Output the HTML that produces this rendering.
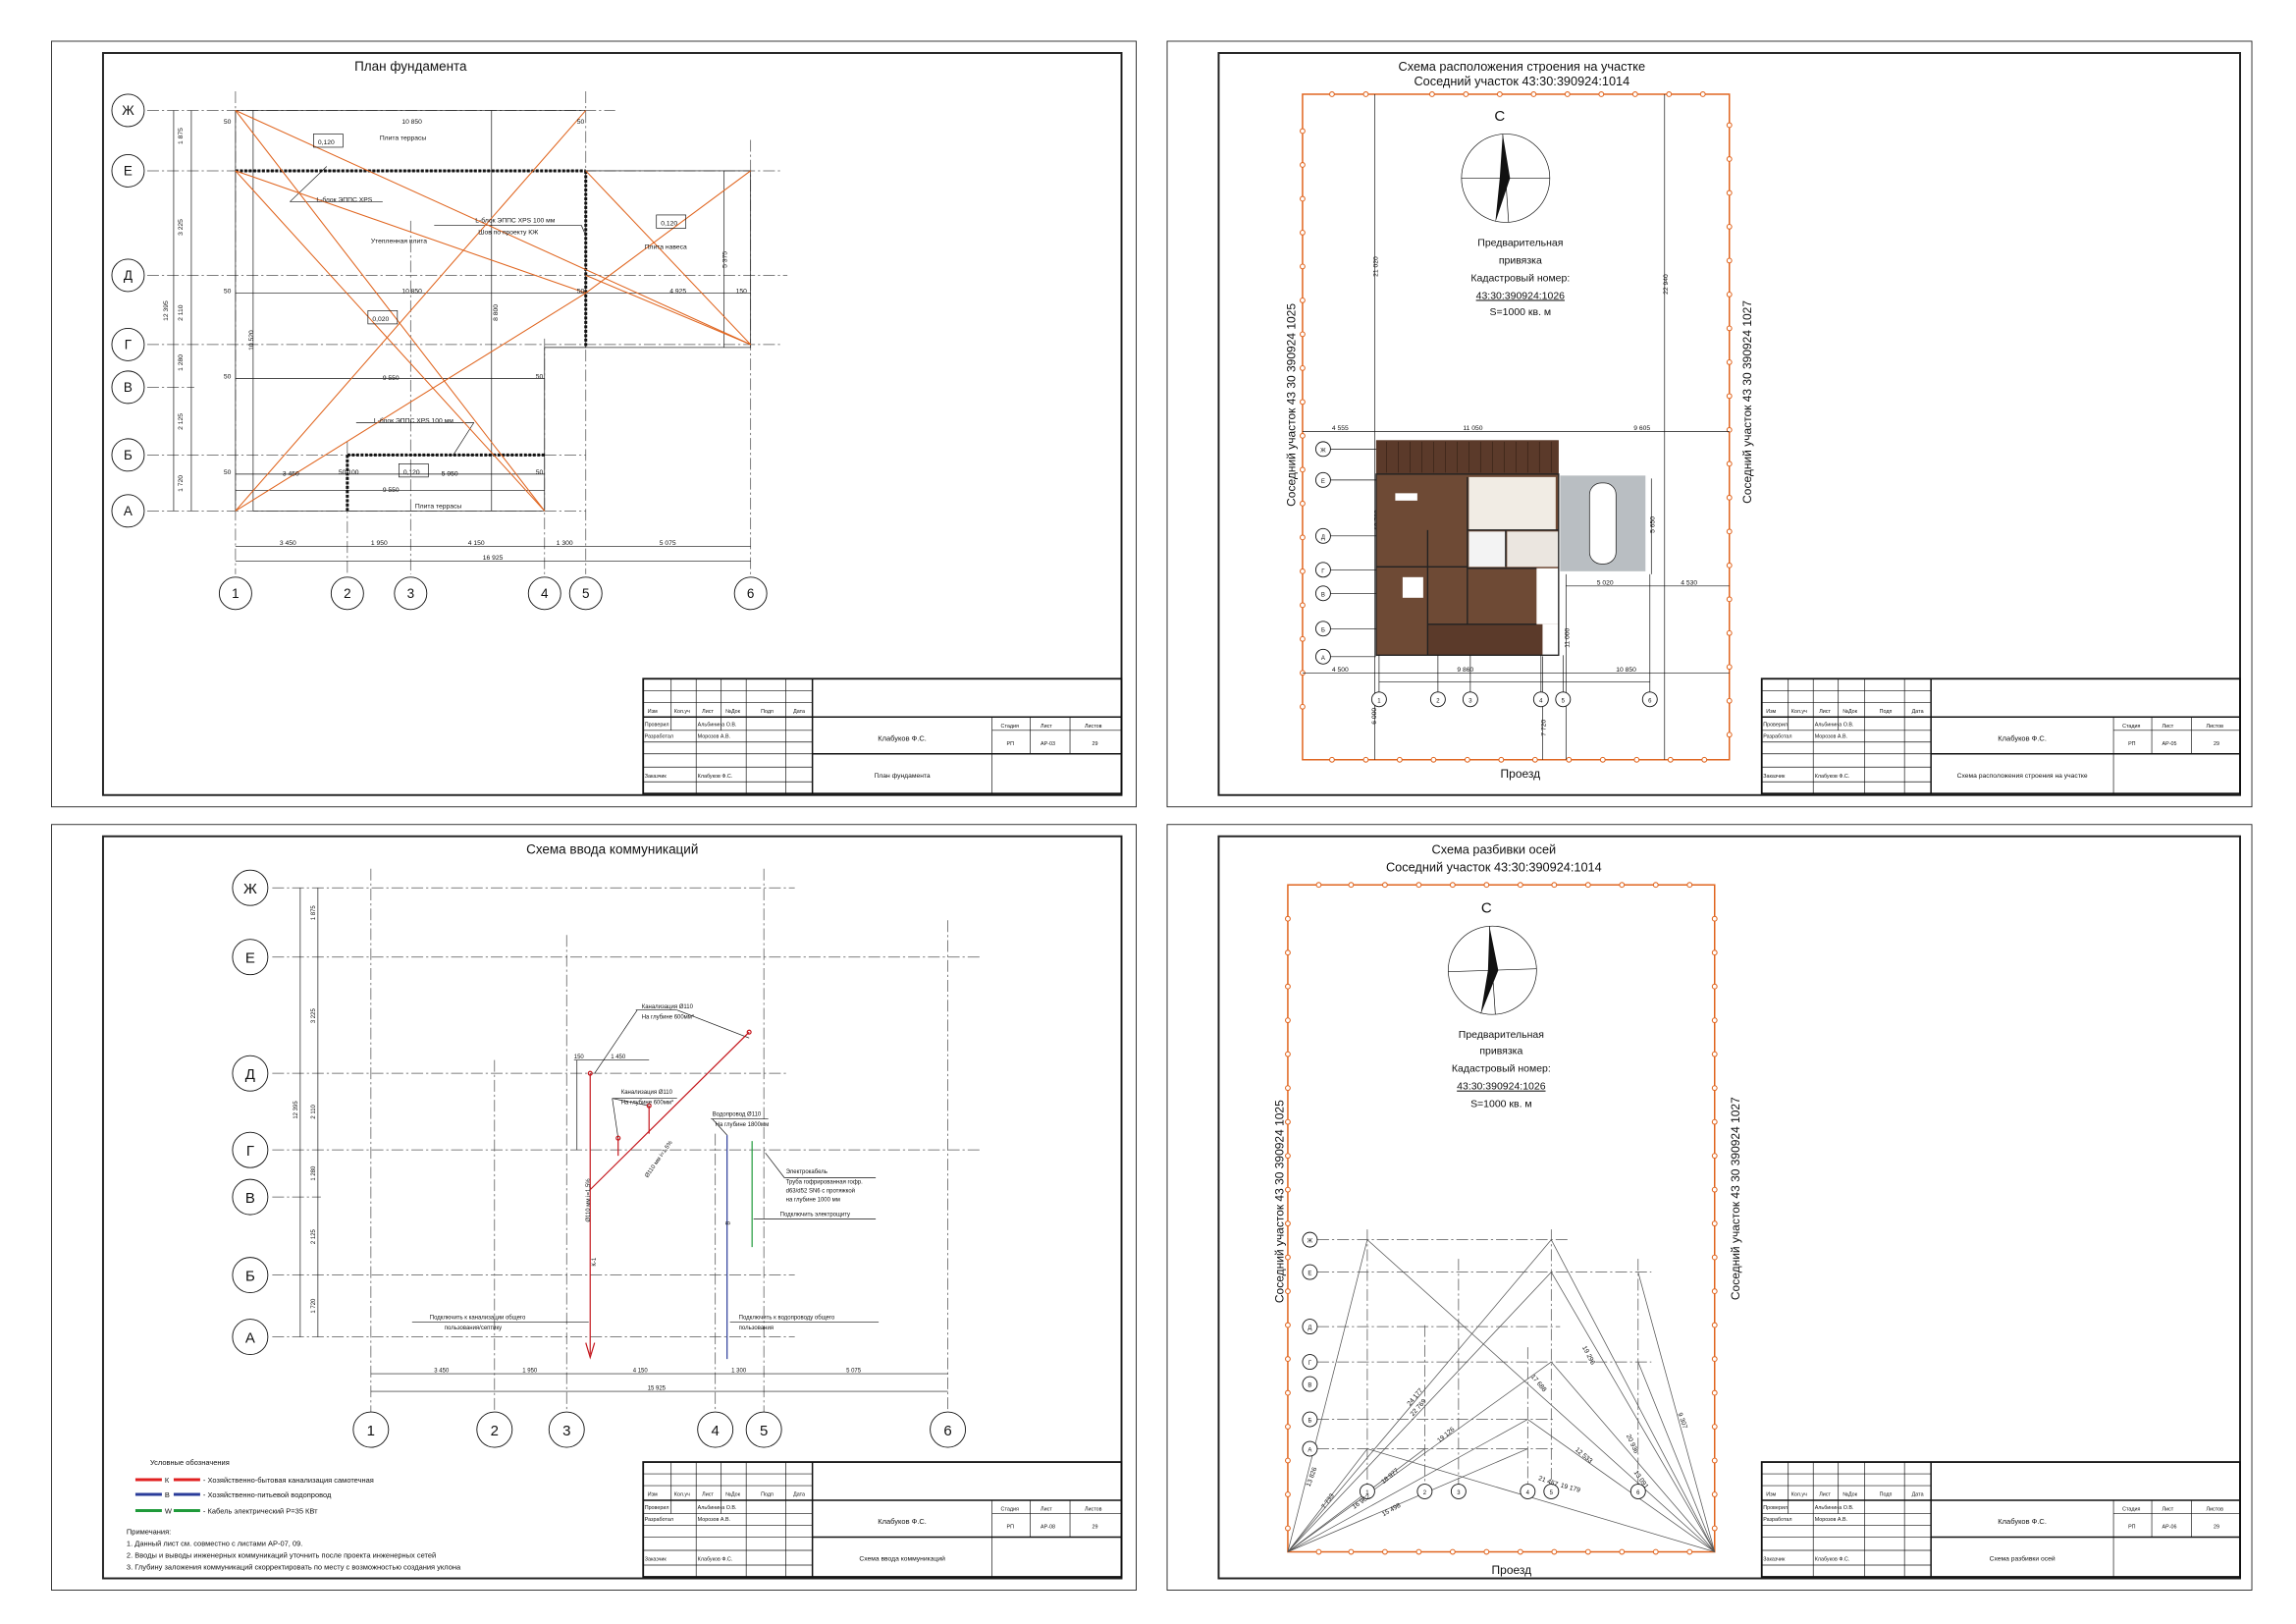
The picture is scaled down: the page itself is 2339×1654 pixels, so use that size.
<!DOCTYPE html>
<html><head><meta charset="utf-8"><style>
html,body{margin:0;padding:0;background:#fff;}
svg{display:block;}
text{font-family:"Liberation Sans Narrow","Liberation Sans","DejaVu Sans",sans-serif;fill:#111;}
.ax{stroke:#555;stroke-width:.5;stroke-dasharray:8 2 1.5 2;fill:none}
.th{stroke:#111;stroke-width:.45;fill:none}
.tk{stroke:#111;stroke-width:1.2;fill:none}
.or{stroke:#e0651f;stroke-width:.7;fill:none}
.bb{stroke:#111;stroke-width:.6;fill:#fff}
</style></head><body>
<svg width="2339" height="1654" viewBox="0 0 1560 1103" preserveAspectRatio="none" xmlns="http://www.w3.org/2000/svg">
<rect width="1560" height="1103" fill="#fff"/>
<!-- sheet frames -->
<g fill="none" stroke="#222">
<rect x="35" y="28" width="737" height="520" stroke-width=".6"/>
<rect x="70" y="36" width="692" height="504" stroke-width="1.3"/>
<rect x="793" y="28" width="737" height="520" stroke-width=".6"/>
<rect x="828" y="36" width="694" height="504" stroke-width="1.3"/>
<rect x="35" y="560" width="737" height="520" stroke-width=".6"/>
<rect x="70" y="568" width="692" height="504" stroke-width="1.3"/>
<rect x="793" y="560" width="737" height="520" stroke-width=".6"/>
<rect x="828" y="568" width="694" height="504" stroke-width="1.3"/>
</g>

<!-- ================= SHEET 1 ================= -->
<text x="279" y="48" font-size="9" text-anchor="middle">План фундамента</text>
<g class="ax">
<line x1="100" y1="75" x2="418" y2="75"/><line x1="100" y1="116" x2="530" y2="116"/>
<line x1="100" y1="187" x2="535" y2="187"/><line x1="100" y1="234" x2="530" y2="234"/>
<line x1="100" y1="263" x2="132" y2="263"/><line x1="100" y1="309" x2="398" y2="309"/>
<line x1="100" y1="347" x2="398" y2="347"/>
<line x1="160" y1="62" x2="160" y2="390"/><line x1="236" y1="300" x2="236" y2="390"/>
<line x1="279" y1="150" x2="279" y2="390"/><line x1="370" y1="230" x2="370" y2="390"/>
<line x1="398" y1="62" x2="398" y2="390"/><line x1="510" y1="95" x2="510" y2="390"/>
</g>
<g class="th">
<line x1="160" y1="75" x2="398" y2="75"/><line x1="172" y1="347" x2="370" y2="347"/>
<line x1="160" y1="75" x2="160" y2="347"/><line x1="370" y1="236" x2="370" y2="347"/>
<line x1="370" y1="236" x2="398" y2="236"/>
<rect x="398" y="116" width="112" height="120"/>
<line x1="160" y1="199" x2="398" y2="199"/><line x1="160" y1="257" x2="370" y2="257"/>
<line x1="160" y1="322" x2="370" y2="322"/><line x1="160" y1="333" x2="370" y2="333"/>
<line x1="398" y1="199" x2="510" y2="199"/>
<line x1="118" y1="75" x2="118" y2="347"/><line x1="130" y1="75" x2="130" y2="347"/>
<line x1="160" y1="371" x2="510" y2="371"/><line x1="160" y1="381" x2="510" y2="381"/>
<line x1="172" y1="75" x2="172" y2="347"/><line x1="334" y1="75" x2="334" y2="347"/>
<line x1="492" y1="116" x2="492" y2="236"/>
<line x1="197" y1="137" x2="260" y2="137"/><line x1="197" y1="137" x2="222" y2="113"/>
<line x1="295" y1="153" x2="395" y2="153"/><line x1="395" y1="153" x2="398" y2="160"/>
<line x1="242" y1="287" x2="322" y2="287"/><line x1="322" y1="287" x2="308" y2="309"/>
</g>
<g class="tk" stroke-dasharray="2 1">
<line x1="160" y1="116" x2="398" y2="116" stroke-width="2"/>
<line x1="398" y1="116" x2="398" y2="236" stroke-width="2"/>
<line x1="236" y1="309" x2="370" y2="309" stroke-width="2"/>
<line x1="236" y1="309" x2="236" y2="347" stroke-width="2"/>
</g>
<g class="or">
<line x1="160" y1="75" x2="510" y2="234"/><line x1="160" y1="116" x2="398" y2="199"/>
<line x1="160" y1="116" x2="370" y2="347"/><line x1="160" y1="75" x2="370" y2="347"/>
<line x1="160" y1="347" x2="398" y2="75"/><line x1="160" y1="347" x2="398" y2="199"/>
<line x1="398" y1="199" x2="510" y2="116"/><line x1="398" y1="187" x2="510" y2="234"/>
<line x1="398" y1="116" x2="510" y2="234"/>
</g>
<g font-size="4.5">
<rect x="213" y="91" width="20" height="9" class="th"/><text x="216" y="98">0,120</text>
<rect x="446" y="146" width="20" height="9" class="th"/><text x="449" y="153">0,120</text>
<rect x="250" y="211" width="20" height="9" class="th"/><text x="253" y="218">0,020</text>
<rect x="271" y="315" width="20" height="9" class="th"/><text x="274" y="322">0,120</text>
<text x="258" y="95">Плита террасы</text><text x="252" y="165">Утепленная плита</text>
<text x="438" y="169">Плита навеса</text><text x="282" y="345">Плита террасы</text>
<text x="215" y="137">L-блок ЭППС XPS</text>
<text x="323" y="151">L-блок ЭППС XPS 100 мм</text><text x="325" y="159">Шов по проекту КЖ</text>
<text x="254" y="287">L-блок ЭППС XPS 100 мм</text>
<text x="273" y="84">10 850</text><text x="273" y="199">10 850</text><text x="455" y="199">4 925</text>
<text x="260" y="258">9 550</text><text x="192" y="323">3 450</text><text x="300" y="323">5 950</text><text x="260" y="334">9 550</text>
<text x="190" y="370">3 450</text><text x="252" y="370">1 950</text><text x="318" y="370">4 150</text>
<text x="378" y="370">1 300</text><text x="448" y="370">5 075</text><text x="328" y="380">16 925</text>
<text x="152" y="84">50</text><text x="152" y="199">50</text><text x="152" y="257">50</text><text x="152" y="322">50</text>
<text x="392" y="84">50</text><text x="392" y="199">50</text><text x="500" y="199">150</text>
<text x="364" y="257">50</text><text x="364" y="322">50</text><text x="230" y="322">50 100</text>
</g>
<g font-size="4.5">
<text transform="translate(124 98) rotate(-90)">1 875</text>
<text transform="translate(124 160) rotate(-90)">3 225</text>
<text transform="translate(124 218) rotate(-90)">2 110</text>
<text transform="translate(124 252) rotate(-90)">1 280</text>
<text transform="translate(124 292) rotate(-90)">2 125</text>
<text transform="translate(124 334) rotate(-90)">1 720</text>
<text transform="translate(114 218) rotate(-90)">12 395</text>
<text transform="translate(172 238) rotate(-90)">10 520</text>
<text transform="translate(338 218) rotate(-90)">8 800</text>
<text transform="translate(494 182) rotate(-90)">5 375</text>
</g>
<g class="bb">
<circle cx="87" cy="75" r="11"/><circle cx="87" cy="116" r="11"/><circle cx="87" cy="187" r="11"/>
<circle cx="87" cy="234" r="11"/><circle cx="87" cy="263" r="11"/><circle cx="87" cy="309" r="11"/><circle cx="87" cy="347" r="11"/>
<circle cx="160" cy="403" r="11"/><circle cx="236" cy="403" r="11"/><circle cx="279" cy="403" r="11"/>
<circle cx="370" cy="403" r="11"/><circle cx="398" cy="403" r="11"/><circle cx="510" cy="403" r="11"/>
</g>
<g font-size="9" text-anchor="middle">
<text x="87" y="78">Ж</text><text x="87" y="119">Е</text><text x="87" y="190">Д</text><text x="87" y="237">Г</text>
<text x="87" y="266">В</text><text x="87" y="312">Б</text><text x="87" y="350">А</text>
<text x="160" y="406">1</text><text x="236" y="406">2</text><text x="279" y="406">3</text>
<text x="370" y="406">4</text><text x="398" y="406">5</text><text x="510" y="406">6</text>
</g>

<!-- ================= SHEET 3 ================= -->
<text x="416" y="580" font-size="9" text-anchor="middle">Схема ввода коммуникаций</text>
<g class="ax">
<line x1="185" y1="603" x2="540" y2="603"/><line x1="185" y1="650" x2="667" y2="650"/>
<line x1="185" y1="729" x2="535" y2="729"/><line x1="185" y1="781" x2="667" y2="781"/>
<line x1="185" y1="813" x2="218" y2="813"/><line x1="185" y1="866" x2="540" y2="866"/>
<line x1="185" y1="908" x2="540" y2="908"/>
<line x1="252" y1="590" x2="252" y2="960"/><line x1="336" y1="720" x2="336" y2="960"/>
<line x1="385" y1="635" x2="385" y2="960"/><line x1="486" y1="770" x2="486" y2="960"/>
<line x1="519" y1="590" x2="519" y2="960"/><line x1="644" y1="625" x2="644" y2="960"/>
</g>
<g class="th">
<line x1="204" y1="603" x2="204" y2="908"/><line x1="216" y1="603" x2="216" y2="908"/>
<line x1="252" y1="933" x2="644" y2="933"/><line x1="252" y1="945" x2="644" y2="945"/>
<line x1="432" y1="686" x2="460" y2="686"/><line x1="433" y1="686" x2="404" y2="729"/>
<line x1="460" y1="686" x2="509" y2="705"/>
<line x1="416" y1="746" x2="460" y2="746"/><line x1="416" y1="746" x2="420" y2="773"/><line x1="416" y1="746" x2="441" y2="751"/>
<line x1="483" y1="760" x2="522" y2="760"/><line x1="484" y1="760" x2="494" y2="771"/>
<line x1="520" y1="783" x2="533" y2="800"/><line x1="533" y1="800" x2="595" y2="800"/>
<line x1="512" y1="828" x2="595" y2="828"/>
<line x1="280" y1="898" x2="400" y2="898"/><line x1="496" y1="898" x2="597" y2="898"/>
<line x1="390" y1="720" x2="441" y2="720"/><line x1="392" y1="720" x2="392" y2="781"/>
</g>
<g stroke="#c4161c" stroke-width=".8" fill="none">
<line x1="401" y1="729" x2="401" y2="920"/><line x1="509" y1="701" x2="401" y2="808"/>
<line x1="420" y1="773" x2="420" y2="785"/><line x1="441" y1="751" x2="441" y2="770"/>
<path d="M398 912 L401 922 L404 912"/>
<circle cx="401" cy="729" r="1.3"/><circle cx="509" cy="701" r="1.3"/><circle cx="441" cy="751" r="1.3"/><circle cx="420" cy="773" r="1.3"/>
</g>
<line x1="494" y1="771" x2="494" y2="923" stroke="#2a3c9a" stroke-width=".8"/>
<line x1="511" y1="775" x2="511" y2="847" stroke="#1f9a3a" stroke-width=".8"/>
<g font-size="4">
<text x="436" y="685">Канализация Ø110</text><text x="436" y="692">На глубине 600мм*</text>
<text x="422" y="743">Канализация Ø110</text><text x="422" y="750">На глубине 600мм*</text>
<text x="484" y="758">Водопровод Ø110</text><text x="486" y="765">На глубине 1800мм</text>
<text x="534" y="797">Электрокабель</text><text x="534" y="804">Труба гофрированная гофр.</text>
<text x="534" y="810">d63/d52 SN6 с протяжкой</text><text x="534" y="816">на глубине 1000 мм</text>
<text x="530" y="826">Подключить электрощиту</text>
<text x="292" y="896">Подключить к канализации общего</text><text x="302" y="903">пользования/септику</text>
<text x="502" y="896">Подключить к водопроводу общего</text><text x="502" y="903">пользования</text>
<text x="390" y="719">150</text><text x="415" y="719">1 450</text>
<text x="295" y="932">3 450</text><text x="355" y="932">1 950</text><text x="430" y="932">4 150</text>
<text x="497" y="932">1 300</text><text x="575" y="932">5 075</text><text x="440" y="944">15 925</text>
</g>
<g font-size="4">
<text transform="translate(214 625) rotate(-90)">1 875</text>
<text transform="translate(214 695) rotate(-90)">3 225</text>
<text transform="translate(214 760) rotate(-90)">2 110</text>
<text transform="translate(214 802) rotate(-90)">1 280</text>
<text transform="translate(214 845) rotate(-90)">2 125</text>
<text transform="translate(214 892) rotate(-90)">1 720</text>
<text transform="translate(202 760) rotate(-90)">12 395</text>
<text transform="translate(401 830) rotate(-90)">Ø110 мм i=1,5%</text>
<text transform="translate(440 800) rotate(-55)">Ø110 мм i=1,5%</text>
<text transform="translate(405 860) rotate(-90)">К-1</text>
<text transform="translate(496 832) rotate(-90)">В</text>
</g>
<g class="bb">
<circle cx="170" cy="603" r="12"/><circle cx="170" cy="650" r="12"/><circle cx="170" cy="729" r="12"/>
<circle cx="170" cy="781" r="12"/><circle cx="170" cy="813" r="12"/><circle cx="170" cy="866" r="12"/><circle cx="170" cy="908" r="12"/>
<circle cx="252" cy="971" r="12"/><circle cx="336" cy="971" r="12"/><circle cx="385" cy="971" r="12"/>
<circle cx="486" cy="971" r="12"/><circle cx="519" cy="971" r="12"/><circle cx="644" cy="971" r="12"/>
</g>
<g font-size="10" text-anchor="middle">
<text x="170" y="607">Ж</text><text x="170" y="654">Е</text><text x="170" y="733">Д</text><text x="170" y="785">Г</text>
<text x="170" y="817">В</text><text x="170" y="870">Б</text><text x="170" y="912">А</text>
<text x="252" y="975">1</text><text x="336" y="975">2</text><text x="385" y="975">3</text>
<text x="486" y="975">4</text><text x="519" y="975">5</text><text x="644" y="975">6</text>
</g>
<g font-size="5">
<text x="102" y="995">Условные обозначения</text>
<line x1="92" y1="1005" x2="110" y2="1005" stroke="#e02020" stroke-width="2"/><line x1="118" y1="1005" x2="136" y2="1005" stroke="#e02020" stroke-width="2"/>
<line x1="92" y1="1015" x2="110" y2="1015" stroke="#2a3c9a" stroke-width="2"/><line x1="118" y1="1015" x2="136" y2="1015" stroke="#2a3c9a" stroke-width="2"/>
<line x1="92" y1="1026" x2="110" y2="1026" stroke="#1f9a3a" stroke-width="2"/><line x1="118" y1="1026" x2="136" y2="1026" stroke="#1f9a3a" stroke-width="2"/>
<text x="112" y="1007">К</text><text x="112" y="1017">В</text><text x="112" y="1028">W</text>
<text x="138" y="1007">- Хозяйственно-бытовая канализация самотечная</text>
<text x="138" y="1017">- Хозяйственно-питьевой водопровод</text>
<text x="138" y="1028">- Кабель электрический Р=35 КВт</text>
<text x="86" y="1042">Примечания:</text>
<text x="86" y="1050">1. Данный лист см. совместно с листами АР-07, 09.</text>
<text x="86" y="1058">2. Вводы и выводы инженерных коммуникаций уточнить после проекта инженерных сетей</text>
<text x="86" y="1066">3. Глубину заложения коммуникаций скорректировать по месту с возможностью создания уклона</text>
</g>

<!-- ================= SHEET 2 ================= -->
<text x="1034" y="48" font-size="8.5" text-anchor="middle">Схема расположения строения на участке</text>
<text x="1034" y="58" font-size="8.5" text-anchor="middle">Соседний участок 43:30:390924:1014</text>
<rect x="885" y="64" width="290" height="452" fill="none" stroke="#e0651f" stroke-width="1"/>
<g fill="#fff" stroke="#e0651f" stroke-width=".7">
<circle cx="905" cy="64" r="1.6"/><circle cx="928" cy="64" r="1.6"/><circle cx="973" cy="64" r="1.6"/><circle cx="996" cy="64" r="1.6"/><circle cx="1019" cy="64" r="1.6"/><circle cx="1042" cy="64" r="1.6"/><circle cx="1065" cy="64" r="1.6"/><circle cx="1088" cy="64" r="1.6"/><circle cx="1111" cy="64" r="1.6"/><circle cx="1134" cy="64" r="1.6"/><circle cx="1157" cy="64" r="1.6"/>
<circle cx="905" cy="516" r="1.6"/><circle cx="928" cy="516" r="1.6"/><circle cx="951" cy="516" r="1.6"/><circle cx="974" cy="516" r="1.6"/><circle cx="997" cy="516" r="1.6"/><circle cx="1020" cy="516" r="1.6"/><circle cx="1043" cy="516" r="1.6"/><circle cx="1066" cy="516" r="1.6"/><circle cx="1089" cy="516" r="1.6"/><circle cx="1112" cy="516" r="1.6"/><circle cx="1135" cy="516" r="1.6"/><circle cx="1158" cy="516" r="1.6"/>
<circle cx="885" cy="89" r="1.6"/><circle cx="885" cy="112" r="1.6"/><circle cx="885" cy="135" r="1.6"/><circle cx="885" cy="158" r="1.6"/><circle cx="885" cy="181" r="1.6"/><circle cx="885" cy="204" r="1.6"/><circle cx="885" cy="227" r="1.6"/><circle cx="885" cy="250" r="1.6"/><circle cx="885" cy="273" r="1.6"/><circle cx="885" cy="296" r="1.6"/><circle cx="885" cy="319" r="1.6"/><circle cx="885" cy="342" r="1.6"/><circle cx="885" cy="365" r="1.6"/><circle cx="885" cy="388" r="1.6"/><circle cx="885" cy="411" r="1.6"/><circle cx="885" cy="434" r="1.6"/><circle cx="885" cy="457" r="1.6"/><circle cx="885" cy="480" r="1.6"/>
<circle cx="1175" cy="85" r="1.6"/><circle cx="1175" cy="108" r="1.6"/><circle cx="1175" cy="131" r="1.6"/><circle cx="1175" cy="154" r="1.6"/><circle cx="1175" cy="177" r="1.6"/><circle cx="1175" cy="200" r="1.6"/><circle cx="1175" cy="223" r="1.6"/><circle cx="1175" cy="246" r="1.6"/><circle cx="1175" cy="269" r="1.6"/><circle cx="1175" cy="292" r="1.6"/><circle cx="1175" cy="315" r="1.6"/><circle cx="1175" cy="338" r="1.6"/><circle cx="1175" cy="361" r="1.6"/><circle cx="1175" cy="384" r="1.6"/><circle cx="1175" cy="407" r="1.6"/><circle cx="1175" cy="430" r="1.6"/><circle cx="1175" cy="453" r="1.6"/><circle cx="1175" cy="476" r="1.6"/><circle cx="1175" cy="499" r="1.6"/>
</g>
<g class="th">
<line x1="934" y1="64" x2="934" y2="516"/><line x1="1131" y1="64" x2="1131" y2="516"/>
<line x1="885" y1="293" x2="1175" y2="293"/><line x1="885" y1="457" x2="1175" y2="457"/>
<line x1="1064" y1="398" x2="1175" y2="398"/><line x1="1122" y1="325" x2="1122" y2="390"/>
<line x1="937" y1="463" x2="1121" y2="463"/><line x1="1048" y1="445" x2="1048" y2="516"/>
<line x1="1064" y1="390" x2="1064" y2="516"/>
<ellipse cx="1023" cy="121" rx="30" ry="30"/>
<line x1="993" y1="121" x2="1053" y2="121"/><line x1="1021" y1="91" x2="1025" y2="151"/>
</g>
<path d="M1021 91 L1026 121 L1019 121 Z M1019 121 L1026 121 L1016 151 Z" fill="#111"/>
<g font-size="7" text-anchor="middle">
<text x="1019" y="82" font-size="10">С</text>
<text x="1033" y="167">Предварительная</text><text x="1033" y="179">привязка</text>
<text x="1033" y="191">Кадастровый номер:</text><text x="1033" y="203" text-decoration="underline">43:30:390924:1026</text>
<text x="1033" y="214">S=1000 кв. м</text>
<text x="1033" y="528" font-size="8">Проезд</text>
</g>
<text transform="translate(880 344) rotate(-90)" font-size="8">Соседний участок 43 30 390924 1025</text>
<text transform="translate(1190 342) rotate(-90)" font-size="8">Соседний участок 43 30 390924 1027</text>
<g font-size="4.5">
<text transform="translate(936 188) rotate(-90)">21 020</text>
<text transform="translate(1133 200) rotate(-90)">22 940</text>
<text x="905" y="292">4 555</text><text x="994" y="292">11 050</text><text x="1110" y="292">9 605</text>
<text x="1085" y="397">5 020</text><text x="1142" y="397">4 530</text>
<text x="905" y="456">4 500</text><text x="990" y="456">9 860</text><text x="1098" y="456">10 850</text>
<text transform="translate(937 360) rotate(-90)">12 700</text>
<text transform="translate(1124 362) rotate(-90)">5 650</text>
<text transform="translate(935 492) rotate(-90)">6 000</text>
<text transform="translate(1050 500) rotate(-90)">7 720</text>
<text transform="translate(1066 440) rotate(-90)">11 000</text>
</g>
<!-- floor plan -->
<rect x="935" y="299" width="124" height="146" fill="#6e4a35"/>
<rect x="935" y="299" width="124" height="23" fill="#5b3a2a"/>
<g stroke="#3a2418" stroke-width=".5">
<line x1="942" y1="300" x2="942" y2="321"/><line x1="950" y1="300" x2="950" y2="321"/><line x1="958" y1="300" x2="958" y2="321"/><line x1="966" y1="300" x2="966" y2="321"/><line x1="974" y1="300" x2="974" y2="321"/><line x1="982" y1="300" x2="982" y2="321"/><line x1="990" y1="300" x2="990" y2="321"/><line x1="998" y1="300" x2="998" y2="321"/><line x1="1006" y1="300" x2="1006" y2="321"/><line x1="1014" y1="300" x2="1014" y2="321"/><line x1="1022" y1="300" x2="1022" y2="321"/><line x1="1030" y1="300" x2="1030" y2="321"/><line x1="1038" y1="300" x2="1038" y2="321"/><line x1="1046" y1="300" x2="1046" y2="321"/><line x1="1054" y1="300" x2="1054" y2="321"/>
</g>
<rect x="998" y="324" width="59" height="36" fill="#f1ece4"/>
<rect x="998" y="361" width="25" height="24" fill="#f3f3f3"/>
<rect x="1024" y="361" width="35" height="24" fill="#ebe6e0"/>
<rect x="1044" y="386" width="16" height="38" fill="#fff"/>
<rect x="1048" y="424" width="12" height="22" fill="#fff"/>
<rect x="970" y="424" width="78" height="21" fill="#5b3a2a"/>
<rect x="1060" y="323" width="58" height="65" fill="#b9bec2"/>
<rect x="1080" y="328" width="18" height="55" rx="8" fill="#fff" stroke="#222" stroke-width=".5"/>
<g stroke="#222" stroke-width=".9" fill="none">
<rect x="935" y="322" width="124" height="123"/>
<line x1="935" y1="385" x2="997" y2="385"/><line x1="970" y1="360" x2="970" y2="445"/>
<line x1="997" y1="324" x2="997" y2="424"/><line x1="997" y1="360" x2="1059" y2="360"/>
<line x1="1023" y1="360" x2="1023" y2="385"/><line x1="997" y1="386" x2="1044" y2="386"/>
<line x1="970" y1="424" x2="1044" y2="424"/>
</g>
<rect x="948" y="335" width="15" height="5" fill="#fff"/><rect x="953" y="392" width="14" height="14" fill="#fff"/>
<g class="th">
<line x1="899" y1="305" x2="935" y2="305"/><line x1="899" y1="326" x2="935" y2="326"/>
<line x1="899" y1="364" x2="935" y2="364"/><line x1="899" y1="387" x2="935" y2="387"/>
<line x1="899" y1="403" x2="935" y2="403"/><line x1="899" y1="427" x2="935" y2="427"/><line x1="899" y1="446" x2="935" y2="446"/>
<line x1="937" y1="445" x2="937" y2="475"/><line x1="977" y1="445" x2="977" y2="475"/><line x1="999" y1="445" x2="999" y2="475"/>
<line x1="1047" y1="445" x2="1047" y2="475"/><line x1="1062" y1="445" x2="1062" y2="475"/><line x1="1121" y1="390" x2="1121" y2="475"/>
</g>
<g class="bb" stroke-width=".5">
<circle cx="899" cy="305" r="5"/><circle cx="899" cy="326" r="5"/><circle cx="899" cy="364" r="5"/><circle cx="899" cy="387" r="5"/>
<circle cx="899" cy="403" r="5"/><circle cx="899" cy="427" r="5"/><circle cx="899" cy="446" r="5"/>
<circle cx="937" cy="475" r="5"/><circle cx="977" cy="475" r="5"/><circle cx="999" cy="475" r="5"/>
<circle cx="1047" cy="475" r="5"/><circle cx="1062" cy="475" r="5"/><circle cx="1121" cy="475" r="5"/>
</g>
<g font-size="4" text-anchor="middle">
<text x="899" y="307">Ж</text><text x="899" y="328">Е</text><text x="899" y="366">Д</text><text x="899" y="389">Г</text>
<text x="899" y="405">В</text><text x="899" y="429">Б</text><text x="899" y="448">А</text>
<text x="937" y="477">1</text><text x="977" y="477">2</text><text x="999" y="477">3</text>
<text x="1047" y="477">4</text><text x="1062" y="477">5</text><text x="1121" y="477">6</text>
</g>

<!-- ================= SHEET 4 ================= -->
<text x="1015" y="580" font-size="8.5" text-anchor="middle">Схема разбивки осей</text>
<text x="1015" y="592" font-size="8.5" text-anchor="middle">Соседний участок 43:30:390924:1014</text>
<rect x="875" y="601" width="290" height="453" fill="none" stroke="#e0651f" stroke-width="1"/>
<g fill="#fff" stroke="#e0651f" stroke-width=".7">
<circle cx="896" cy="601" r="1.6"/><circle cx="918" cy="601" r="1.6"/><circle cx="941" cy="601" r="1.6"/><circle cx="964" cy="601" r="1.6"/><circle cx="987" cy="601" r="1.6"/><circle cx="1010" cy="601" r="1.6"/><circle cx="1033" cy="601" r="1.6"/><circle cx="1056" cy="601" r="1.6"/><circle cx="1079" cy="601" r="1.6"/><circle cx="1102" cy="601" r="1.6"/><circle cx="1125" cy="601" r="1.6"/><circle cx="1148" cy="601" r="1.6"/>
<circle cx="896" cy="1054" r="1.6"/><circle cx="918" cy="1054" r="1.6"/><circle cx="941" cy="1054" r="1.6"/><circle cx="964" cy="1054" r="1.6"/><circle cx="987" cy="1054" r="1.6"/><circle cx="1010" cy="1054" r="1.6"/><circle cx="1033" cy="1054" r="1.6"/><circle cx="1056" cy="1054" r="1.6"/><circle cx="1079" cy="1054" r="1.6"/><circle cx="1102" cy="1054" r="1.6"/><circle cx="1125" cy="1054" r="1.6"/><circle cx="1148" cy="1054" r="1.6"/>
<circle cx="875" cy="624" r="1.6"/><circle cx="875" cy="647" r="1.6"/><circle cx="875" cy="670" r="1.6"/><circle cx="875" cy="693" r="1.6"/><circle cx="875" cy="716" r="1.6"/><circle cx="875" cy="739" r="1.6"/><circle cx="875" cy="762" r="1.6"/><circle cx="875" cy="785" r="1.6"/><circle cx="875" cy="808" r="1.6"/><circle cx="875" cy="831" r="1.6"/><circle cx="875" cy="854" r="1.6"/><circle cx="875" cy="877" r="1.6"/><circle cx="875" cy="900" r="1.6"/><circle cx="875" cy="923" r="1.6"/><circle cx="875" cy="946" r="1.6"/><circle cx="875" cy="969" r="1.6"/><circle cx="875" cy="992" r="1.6"/><circle cx="875" cy="1015" r="1.6"/><circle cx="875" cy="1038" r="1.6"/>
<circle cx="1165" cy="624" r="1.6"/><circle cx="1165" cy="647" r="1.6"/><circle cx="1165" cy="670" r="1.6"/><circle cx="1165" cy="693" r="1.6"/><circle cx="1165" cy="716" r="1.6"/><circle cx="1165" cy="739" r="1.6"/><circle cx="1165" cy="762" r="1.6"/><circle cx="1165" cy="785" r="1.6"/><circle cx="1165" cy="808" r="1.6"/><circle cx="1165" cy="831" r="1.6"/><circle cx="1165" cy="854" r="1.6"/><circle cx="1165" cy="877" r="1.6"/><circle cx="1165" cy="900" r="1.6"/><circle cx="1165" cy="923" r="1.6"/><circle cx="1165" cy="946" r="1.6"/><circle cx="1165" cy="969" r="1.6"/><circle cx="1165" cy="992" r="1.6"/><circle cx="1165" cy="1015" r="1.6"/><circle cx="1165" cy="1038" r="1.6"/>
</g>
<g class="th">
<ellipse cx="1014" cy="659" rx="30" ry="30"/>
<line x1="984" y1="660" x2="1044" y2="658"/><line x1="1012" y1="629" x2="1016" y2="689"/>
</g>
<path d="M1012 629 L1018 659 L1011 659 Z M1011 659 L1018 659 L1006 689 Z" fill="#111"/>
<g font-size="7" text-anchor="middle">
<text x="1010" y="620" font-size="10">С</text>
<text x="1020" y="705">Предварительная</text><text x="1020" y="716">привязка</text>
<text x="1020" y="728">Кадастровый номер:</text><text x="1020" y="740" text-decoration="underline">43:30:390924:1026</text>
<text x="1020" y="752">S=1000 кв. м</text>
<text x="1027" y="1069" font-size="8">Проезд</text>
</g>
<text transform="translate(872 885) rotate(-90)" font-size="8">Соседний участок 43 30 390924 1025</text>
<text transform="translate(1182 883) rotate(-90)" font-size="8">Соседний участок 43 30 390924 1027</text>
<g class="ax">
<line x1="895" y1="842" x2="1065" y2="842"/><line x1="895" y1="864" x2="1122" y2="864"/>
<line x1="895" y1="901" x2="1060" y2="901"/><line x1="895" y1="925" x2="1122" y2="925"/>
<line x1="895" y1="964" x2="1055" y2="964"/><line x1="895" y1="984" x2="1055" y2="984"/>
<line x1="929" y1="835" x2="929" y2="1010"/><line x1="968" y1="900" x2="968" y2="1010"/>
<line x1="991" y1="855" x2="991" y2="1010"/><line x1="1038" y1="915" x2="1038" y2="1010"/>
<line x1="1054" y1="835" x2="1054" y2="1010"/><line x1="1113" y1="855" x2="1113" y2="1010"/>
</g>
<g stroke="#555" stroke-width=".5" fill="none">
<line x1="875" y1="1054" x2="929" y2="842"/><line x1="875" y1="1054" x2="1054" y2="842"/>
<line x1="875" y1="1054" x2="1054" y2="864"/><line x1="875" y1="1054" x2="1054" y2="925"/>
<line x1="875" y1="1054" x2="1038" y2="964"/><line x1="875" y1="1054" x2="929" y2="984"/>
<line x1="875" y1="1054" x2="968" y2="984"/><line x1="875" y1="1054" x2="1038" y2="984"/>
<line x1="1165" y1="1054" x2="929" y2="842"/><line x1="1165" y1="1054" x2="1054" y2="842"/>
<line x1="1165" y1="1054" x2="1054" y2="864"/><line x1="1165" y1="1054" x2="1113" y2="864"/>
<line x1="1165" y1="1054" x2="1054" y2="925"/><line x1="1165" y1="1054" x2="1113" y2="925"/>
<line x1="1165" y1="1054" x2="929" y2="984"/><line x1="1165" y1="1054" x2="1038" y2="964"/>
</g>
<g class="bb" stroke-width=".5">
<circle cx="890" cy="842" r="5"/><circle cx="890" cy="864" r="5"/><circle cx="890" cy="901" r="5"/><circle cx="890" cy="925" r="5"/>
<circle cx="890" cy="940" r="5"/><circle cx="890" cy="964" r="5"/><circle cx="890" cy="984" r="5"/>
<circle cx="929" cy="1013" r="5"/><circle cx="968" cy="1013" r="5"/><circle cx="991" cy="1013" r="5"/>
<circle cx="1038" cy="1013" r="5"/><circle cx="1054" cy="1013" r="5"/><circle cx="1113" cy="1013" r="5"/>
</g>
<g font-size="4" text-anchor="middle">
<text x="890" y="844">Ж</text><text x="890" y="866">Е</text><text x="890" y="903">Д</text><text x="890" y="927">Г</text>
<text x="890" y="942">В</text><text x="890" y="966">Б</text><text x="890" y="986">А</text>
<text x="929" y="1015">1</text><text x="968" y="1015">2</text><text x="991" y="1015">3</text>
<text x="1038" y="1015">4</text><text x="1054" y="1015">5</text><text x="1113" y="1015">6</text>
</g>
<g font-size="4.5">
<text transform="translate(890 1010) rotate(-70)">13 826</text>
<text transform="translate(900 1025) rotate(-55)">7 733</text>
<text transform="translate(958 955) rotate(-50)">24 177</text>
<text transform="translate(960 962) rotate(-48)">22 769</text>
<text transform="translate(978 980) rotate(-40)">19 126</text>
<text transform="translate(1040 935) rotate(50)">17 688</text>
<text transform="translate(1075 915) rotate(62)">19 296</text>
<text transform="translate(1105 975) rotate(65)">20 936</text>
<text transform="translate(1140 960) rotate(70)">9 307</text>
<text transform="translate(1070 985) rotate(40)">12 533</text>
<text transform="translate(1110 1000) rotate(55)">13 091</text>
<text transform="translate(1045 1005) rotate(20)">21 457</text>
<text transform="translate(1060 1010) rotate(15)">19 179</text>
<text transform="translate(920 1025) rotate(-35)">16 962</text>
<text transform="translate(940 1030) rotate(-30)">15 498</text>
<text transform="translate(940 1008) rotate(-40)">18 977</text>
</g>

<!-- ================= TITLE BLOCKS ================= -->
<!-- TB1 -->
<g transform="translate(437 461)">
<rect x="0" y="0" width="325" height="78" fill="none" stroke="#111" stroke-width="1.2"/>
<g class="th">
<line x1="19" y1="0" x2="19" y2="35"/><line x1="36" y1="0" x2="36" y2="78"/><line x1="53" y1="0" x2="53" y2="35"/>
<line x1="70" y1="0" x2="70" y2="78"/><line x1="97" y1="0" x2="97" y2="78"/>
<line x1="0" y1="8" x2="115" y2="8"/><line x1="0" y1="16" x2="115" y2="16"/>
<line x1="0" y1="35" x2="115" y2="35"/><line x1="0" y1="43" x2="115" y2="43"/><line x1="0" y1="51" x2="115" y2="51"/>
<line x1="0" y1="60" x2="115" y2="60"/><line x1="0" y1="70" x2="115" y2="70"/>
<line x1="237" y1="26" x2="237" y2="78"/><line x1="263" y1="26" x2="263" y2="51"/><line x1="290" y1="26" x2="290" y2="51"/>
<line x1="237" y1="35" x2="325" y2="35"/>
</g>
<g stroke="#111" stroke-width="1"><line x1="115" y1="0" x2="115" y2="78"/><line x1="0" y1="26" x2="325" y2="26"/><line x1="115" y1="51" x2="325" y2="51"/></g>
<g font-size="3.6">
<text x="3" y="23">Изм</text><text x="21" y="23">Кол.уч</text><text x="40" y="23">Лист</text><text x="56" y="23">№Док</text><text x="80" y="23">Подп</text><text x="102" y="23">Дата</text>
<text x="1" y="32">Проверил</text><text x="37" y="32">Альбинина О.В.</text>
<text x="1" y="40">Разработал</text><text x="37" y="40">Морозов А.В.</text>
<text x="1" y="67">Заказчик</text><text x="37" y="67">Клабуков Ф.С.</text>
<text x="243" y="33">Стадия</text><text x="270" y="33">Лист</text><text x="300" y="33">Листов</text>
<text x="247" y="45">РП</text><text x="270" y="45">АР-03</text><text x="305" y="45">29</text>
</g>
<text x="176" y="42" font-size="5" text-anchor="middle">Клабуков Ф.С.</text>
<text x="176" y="67" font-size="4.5" text-anchor="middle">План фундамента</text>
</g>
<!-- TB2 -->
<g transform="translate(1197 461)">
<rect x="0" y="0" width="325" height="78" fill="none" stroke="#111" stroke-width="1.2"/>
<g class="th">
<line x1="18" y1="0" x2="18" y2="35"/><line x1="35" y1="0" x2="35" y2="78"/><line x1="52" y1="0" x2="52" y2="35"/>
<line x1="70" y1="0" x2="70" y2="78"/><line x1="97" y1="0" x2="97" y2="78"/>
<line x1="0" y1="8" x2="115" y2="8"/><line x1="0" y1="16" x2="115" y2="16"/>
<line x1="0" y1="35" x2="115" y2="35"/><line x1="0" y1="43" x2="115" y2="43"/><line x1="0" y1="51" x2="115" y2="51"/>
<line x1="0" y1="60" x2="115" y2="60"/><line x1="0" y1="70" x2="115" y2="70"/>
<line x1="239" y1="26" x2="239" y2="78"/><line x1="265" y1="26" x2="265" y2="51"/><line x1="292" y1="26" x2="292" y2="51"/>
<line x1="239" y1="35" x2="325" y2="35"/>
</g>
<g stroke="#111" stroke-width="1"><line x1="115" y1="0" x2="115" y2="78"/><line x1="0" y1="26" x2="325" y2="26"/><line x1="115" y1="51" x2="325" y2="51"/></g>
<g font-size="3.6">
<text x="3" y="23">Изм</text><text x="20" y="23">Кол.уч</text><text x="39" y="23">Лист</text><text x="55" y="23">№Док</text><text x="80" y="23">Подп</text><text x="102" y="23">Дата</text>
<text x="1" y="32">Проверил</text><text x="36" y="32">Альбинина О.В.</text>
<text x="1" y="40">Разработал</text><text x="36" y="40">Морозов А.В.</text>
<text x="1" y="67">Заказчик</text><text x="36" y="67">Клабуков Ф.С.</text>
<text x="245" y="33">Стадия</text><text x="272" y="33">Лист</text><text x="302" y="33">Листов</text>
<text x="249" y="45">РП</text><text x="272" y="45">АР-05</text><text x="307" y="45">29</text>
</g>
<text x="177" y="42" font-size="5" text-anchor="middle">Клабуков Ф.С.</text>
<text x="177" y="67" font-size="4.5" text-anchor="middle">Схема расположения строения на участке</text>
</g>
<!-- TB3 -->
<g transform="translate(437 993)">
<rect x="0" y="0" width="325" height="78" fill="none" stroke="#111" stroke-width="1.2"/>
<g class="th">
<line x1="19" y1="0" x2="19" y2="35"/><line x1="36" y1="0" x2="36" y2="78"/><line x1="53" y1="0" x2="53" y2="35"/>
<line x1="70" y1="0" x2="70" y2="78"/><line x1="97" y1="0" x2="97" y2="78"/>
<line x1="0" y1="8" x2="115" y2="8"/><line x1="0" y1="16" x2="115" y2="16"/>
<line x1="0" y1="35" x2="115" y2="35"/><line x1="0" y1="43" x2="115" y2="43"/><line x1="0" y1="51" x2="115" y2="51"/>
<line x1="0" y1="60" x2="115" y2="60"/><line x1="0" y1="70" x2="115" y2="70"/>
<line x1="237" y1="26" x2="237" y2="78"/><line x1="263" y1="26" x2="263" y2="51"/><line x1="290" y1="26" x2="290" y2="51"/>
<line x1="237" y1="35" x2="325" y2="35"/>
</g>
<g stroke="#111" stroke-width="1"><line x1="115" y1="0" x2="115" y2="78"/><line x1="0" y1="26" x2="325" y2="26"/><line x1="115" y1="51" x2="325" y2="51"/></g>
<g font-size="3.6">
<text x="3" y="23">Изм</text><text x="21" y="23">Кол.уч</text><text x="40" y="23">Лист</text><text x="56" y="23">№Док</text><text x="80" y="23">Подп</text><text x="102" y="23">Дата</text>
<text x="1" y="32">Проверил</text><text x="37" y="32">Альбинина О.В.</text>
<text x="1" y="40">Разработал</text><text x="37" y="40">Морозов А.В.</text>
<text x="1" y="67">Заказчик</text><text x="37" y="67">Клабуков Ф.С.</text>
<text x="243" y="33">Стадия</text><text x="270" y="33">Лист</text><text x="300" y="33">Листов</text>
<text x="247" y="45">РП</text><text x="270" y="45">АР-08</text><text x="305" y="45">29</text>
</g>
<text x="176" y="42" font-size="5" text-anchor="middle">Клабуков Ф.С.</text>
<text x="176" y="67" font-size="4.5" text-anchor="middle">Схема ввода коммуникаций</text>
</g>
<!-- TB4 -->
<g transform="translate(1197 993)">
<rect x="0" y="0" width="325" height="78" fill="none" stroke="#111" stroke-width="1.2"/>
<g class="th">
<line x1="18" y1="0" x2="18" y2="35"/><line x1="35" y1="0" x2="35" y2="78"/><line x1="52" y1="0" x2="52" y2="35"/>
<line x1="70" y1="0" x2="70" y2="78"/><line x1="97" y1="0" x2="97" y2="78"/>
<line x1="0" y1="8" x2="115" y2="8"/><line x1="0" y1="16" x2="115" y2="16"/>
<line x1="0" y1="35" x2="115" y2="35"/><line x1="0" y1="43" x2="115" y2="43"/><line x1="0" y1="51" x2="115" y2="51"/>
<line x1="0" y1="60" x2="115" y2="60"/><line x1="0" y1="70" x2="115" y2="70"/>
<line x1="239" y1="26" x2="239" y2="78"/><line x1="265" y1="26" x2="265" y2="51"/><line x1="292" y1="26" x2="292" y2="51"/>
<line x1="239" y1="35" x2="325" y2="35"/>
</g>
<g stroke="#111" stroke-width="1"><line x1="115" y1="0" x2="115" y2="78"/><line x1="0" y1="26" x2="325" y2="26"/><line x1="115" y1="51" x2="325" y2="51"/></g>
<g font-size="3.6">
<text x="3" y="23">Изм</text><text x="20" y="23">Кол.уч</text><text x="39" y="23">Лист</text><text x="55" y="23">№Док</text><text x="80" y="23">Подп</text><text x="102" y="23">Дата</text>
<text x="1" y="32">Проверил</text><text x="36" y="32">Альбинина О.В.</text>
<text x="1" y="40">Разработал</text><text x="36" y="40">Морозов А.В.</text>
<text x="1" y="67">Заказчик</text><text x="36" y="67">Клабуков Ф.С.</text>
<text x="245" y="33">Стадия</text><text x="272" y="33">Лист</text><text x="302" y="33">Листов</text>
<text x="249" y="45">РП</text><text x="272" y="45">АР-06</text><text x="307" y="45">29</text>
</g>
<text x="177" y="42" font-size="5" text-anchor="middle">Клабуков Ф.С.</text>
<text x="177" y="67" font-size="4.5" text-anchor="middle">Схема разбивки осей</text>
</g>
</svg>
</body></html>
